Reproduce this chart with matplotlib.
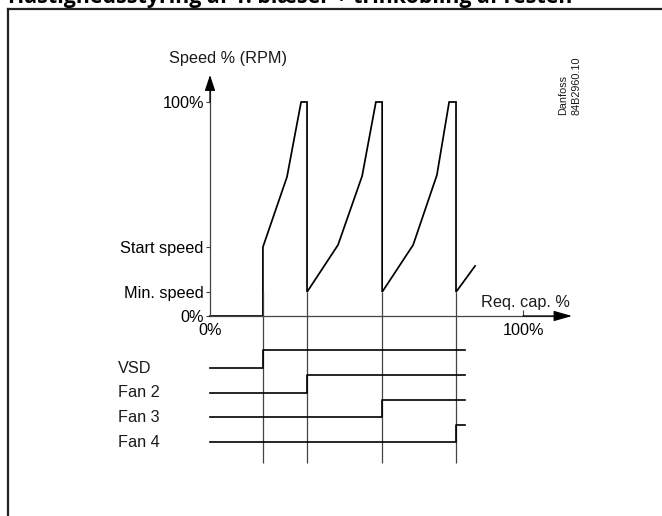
import matplotlib
matplotlib.use('Agg')
import matplotlib.pyplot as plt
from matplotlib.lines import Line2D

# ---------------- data ----------------
cap_points = [0, 16.9, 16.9, 24.6, 29.1, 31.0, 31.0, 40.9, 48.6, 53.0, 55.0,
              55.0, 64.9, 72.5, 76.4, 78.6, 78.6, 84.7]
speed_points = [0, 0, 32.2, 65.0, 100, 100, 11.2, 33.2, 65.4, 100, 100,
                11.2, 33.2, 65.9, 100, 100, 11.2, 23.4]
min_speed = 11.2
speed_ticks = [0, 11.2, 32.2, 100]
speed_tick_labels = ['0%', 'Min. speed', 'Start speed', '100%']
cap_ticks = [0, 100]
cap_tick_labels = ['0%', '100%']
stages = ['VSD', 'Fan 2', 'Fan 3', 'Fan 4']
stage_on_cap = [16.9, 31.0, 55.0, 78.6]
timeline_end = 81.5
title = 'Hastighedsstyring af 1. blæser + trinkobling af resten'

# ---------------- layout ----------------
W, H = 662, 516
X0, XS = 210, 3.13     # pixel of 0 % capacity, pixels per %
Y0, YS = 316, 2.14     # pixel of 0 % speed, pixels per %
row_top = -24.3
row_gap = 11.55
step_h = 8.2
div_bottom = -68.7

plt.rcParams['font.family'] = ['Liberation Sans', 'DejaVu Sans']
fs = 11.7
dark = '#1a1a1a'
grey = '#444444'

fig = plt.figure(figsize=(W / 100, H / 100), dpi=100)
ax = fig.add_axes([0, 0, 1, 1])
ax.set_xlim(-X0 / XS, (W - X0) / XS)
ax.set_ylim((Y0 - H) / YS, Y0 / YS)
ax.patch.set_visible(False)

# axes spines placed at data origin
for s in ['top', 'right']:
    ax.spines[s].set_visible(False)
ax.spines['left'].set_position(('data', 0))
ax.spines['bottom'].set_position(('data', 0))
ax.spines['left'].set_bounds(0, 108)
ax.spines['bottom'].set_bounds(0, 112)
for s in ['left', 'bottom']:
    ax.spines[s].set_color(grey)
    ax.spines[s].set_linewidth(0.9)

ax.set_yticks(speed_ticks, speed_tick_labels, fontsize=fs)
ax.set_xticks(cap_ticks, cap_tick_labels, fontsize=fs)
ax.tick_params(axis='y', direction='out', length=3, width=0.8, color=grey, pad=1.5)
ax.tick_params(axis='x', direction='in', length=4, width=0.8, color=grey, pad=5)
ax.get_xticklines()[0].set_visible(False)

# arrow heads
ax.annotate('', xy=(0, (Y0 - 75) / YS), xytext=(0, 100),
            arrowprops=dict(arrowstyle='-|>,head_length=0.6,head_width=0.2',
                            mutation_scale=16, color='black', lw=0.9,
                            shrinkA=0, shrinkB=0))
ax.annotate('', xy=((572 - X0) / XS, 0), xytext=(100, 0),
            arrowprops=dict(arrowstyle='-|>,head_length=0.7,head_width=0.2',
                            mutation_scale=16, color='black', lw=0.9,
                            shrinkA=0, shrinkB=0))

ax.text((228 - X0) / XS, (Y0 - 58) / YS, 'Speed % (RPM)', ha='center',
        va='center', fontsize=fs, color=dark)
ax.text((525 - X0) / XS, (Y0 - 303) / YS, 'Req. cap. %', ha='center',
        va='center', fontsize=fs, color=dark)

# speed curve
ax.plot(cap_points, speed_points, color='black', lw=1.25, solid_joinstyle='miter')

# divider lines
ax.vlines(stage_on_cap, div_bottom, min_speed, color=grey, lw=0.9)

# stage timing lines
for i, (name, on) in enumerate(zip(stages, stage_on_cap)):
    low = row_top - i * row_gap
    high = low + step_h
    ax.plot([0, on, on, timeline_end], [low, low, high, high],
            color='black', lw=1.2)
    ax.text((118 - X0) / XS, low, name, ha='left', va='center',
            fontsize=fs, color=dark)

# Danfoss reference
fig.text(570 / W, 1 - 115 / H, 'Danfoss\n84B2960.10', rotation=90,
         ha='center', va='bottom', multialignment='left', fontsize=7.8,
         color=dark, linespacing=1.35)

# frame
fig.add_artist(Line2D([8 / W, 8 / W], [0, 1 - 9 / H], color='#222222', lw=1.6))
fig.add_artist(Line2D([8 / W, 1], [1 - 9 / H, 1 - 9 / H], color='#222222', lw=1.6))

# title (cut by the top edge)
fig.text(8 / W, 1 - 3.5 / H, title, ha='left', va='baseline', fontsize=15.4,
         fontweight='bold', family=['Open Sans', 'DejaVu Sans'], color='black')

fig.savefig('out.png', dpi=100)
